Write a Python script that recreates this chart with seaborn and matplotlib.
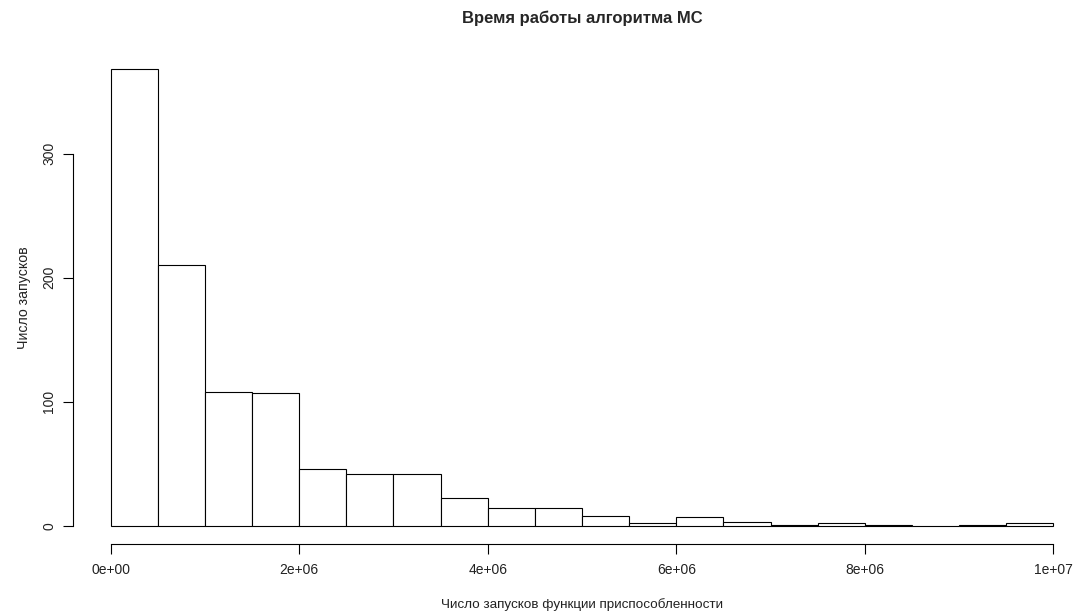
import numpy as np
import matplotlib
matplotlib.use("Agg")
import matplotlib.pyplot as plt
import seaborn as sns

# bins of 5e5 evaluations, counts
bin_edges = [i * 500000 for i in range(21)]
counts = [368, 210, 108, 107, 46, 42, 42, 22, 14, 14, 8, 2, 7, 3, 1, 2, 1, 0, 1, 2]
x_ticks = [0, 2e6, 4e6, 6e6, 8e6, 1e7]
x_tick_labels = ["0e+00", "2e+06", "4e+06", "6e+06", "8e+06", "1e+07"]
y_ticks = [0, 100, 200, 300]

sns.set_style("white")
plt.rcParams['font.family'] = ['Liberation Sans', 'DejaVu Sans']

centers = [(a + b) / 2 for a, b in zip(bin_edges[:-1], bin_edges[1:])]

fig = plt.figure(figsize=(10.78, 6.15), dpi=100)
W, H = 1078, 615
ax = fig.add_axes([73 / W, (H - 544) / H, 1018 / W, 493 / H])

sns.histplot(x=centers, weights=counts, bins=bin_edges, ax=ax,
             color="white", edgecolor="black", linewidth=0.8, alpha=1)

span = bin_edges[-1] - bin_edges[0]
ax.set_xlim(bin_edges[0] - 0.04 * span, bin_edges[-1] + 0.04 * span)
ymax = max(counts)
ax.set_ylim(-0.04 * ymax, ymax * 1.04)

for s in ["top", "right"]:
    ax.spines[s].set_visible(False)
ax.spines["left"].set_bounds(0, 300)
ax.spines["bottom"].set_bounds(0, 1e7)
for s in ["left", "bottom"]:
    ax.spines[s].set_linewidth(0.8)
    ax.spines[s].set_color("black")

ax.set_xticks(x_ticks)
ax.set_xticklabels(x_tick_labels)
ax.set_yticks(y_ticks)
ax.set_yticklabels([str(v) for v in y_ticks], rotation=90, va="center")
ax.tick_params(axis="both", direction="out", length=7, width=0.8,
               bottom=True, left=True,
               color="black", labelsize=10, labelcolor="#222222")
ax.tick_params(axis="x", pad=7)
ax.tick_params(axis="y", pad=5)
ax.set_xlabel("")
ax.set_ylabel("")

# labels placed like R's base graphics
fig.text(582 / W, 1 - 605 / H, "Число запусков функции приспособленности",
         fontsize=9.7, ha="center", va="center", color="#222222")
fig.text(24 / W, 1 - 298 / H, "Число запусков", rotation=90,
         fontsize=10.2, ha="center", va="center", color="#222222")
fig.text(582 / W, 1 - 18 / H, "Время работы алгоритма МС",
         fontsize=12, fontweight="bold", ha="center", va="center")

fig.savefig("out.png", dpi=100)
